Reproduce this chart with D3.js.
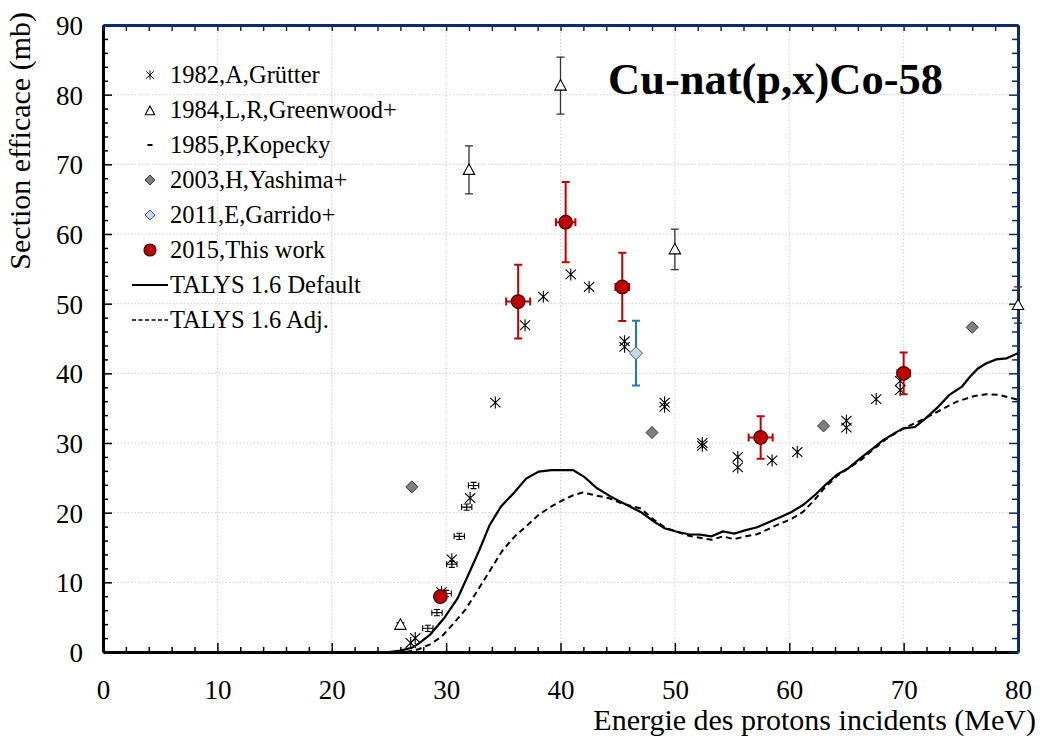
<!DOCTYPE html>
<html>
<head>
<meta charset="utf-8">
<script src="https://cdn.jsdelivr.net/npm/d3@7"></script>
<style>
  html, body { margin: 0; padding: 0; background: #fff; }
  svg { display: block; font-family: "Liberation Serif", "Times New Roman", serif; }
</style>
</head>
<body>
<svg id="chart" width="1040" height="738"></svg>
<script>
// ---- TALYS 1.6 calculations ----
const talysDefE = [25.0, 26.0, 27.0, 27.6, 28.6, 29.8, 31.0, 32.0, 32.9, 33.8, 34.8, 35.9, 37.0, 38.1, 39.2, 41.1, 42.1, 43.2, 44.4, 45.8, 47.0, 48.2, 49.1, 50.1, 51.2, 52.2, 53.2, 54.2, 55.2, 56.2, 57.2, 58.3, 59.3, 60.2, 61.2, 62.3, 63.1, 64.2, 65.1, 66.2, 67.3, 68.2, 69.4, 70.0, 71.0, 71.9, 72.9, 74.0, 75.1, 75.8, 76.5, 77.2, 78.1, 79.0, 80.0];
const talysDefS = [0.0, 0.2, 0.6, 1.2, 2.5, 4.8, 7.7, 11.3, 14.6, 18.2, 20.9, 22.8, 24.9, 25.9, 26.1, 26.1, 25.1, 23.5, 22.3, 21.1, 20.1, 18.7, 17.75, 17.3, 16.9, 16.85, 16.6, 17.3, 17.0, 17.5, 17.9, 18.7, 19.4, 20.1, 21.1, 22.6, 23.9, 25.5, 26.3, 27.8, 29.2, 30.4, 31.6, 32.1, 32.3, 33.5, 35.0, 36.9, 38.1, 39.5, 40.7, 41.4, 42.0, 42.15, 42.9];

const talysAdjE = [26.5, 27.6, 28.6, 29.6, 30.6, 31.7, 32.7, 33.8, 34.9, 36.0, 37.1, 38.1, 39.2, 40.2, 41.1, 41.95, 43.0, 44.2, 45.4, 47.0, 48.2, 49.1, 50.1, 51.2, 52.2, 53.2, 54.2, 55.15, 56.2, 57.2, 58.3, 59.3, 60.2, 61.2, 62.3, 63.1, 64.2, 65.2, 66.3, 67.3, 68.5, 70.0, 71.6, 73.2, 74.6, 76.1, 77.2, 78.4, 80.0];
const talysAdjS = [0.0, 0.4, 1.1, 2.2, 4.0, 6.1, 8.7, 11.6, 14.5, 16.6, 18.2, 19.7, 20.9, 21.8, 22.5, 22.9, 22.5, 22.1, 21.3, 20.6, 18.95, 17.9, 17.3, 16.7, 16.4, 16.1, 16.6, 16.2, 16.6, 16.9, 17.75, 18.5, 19.1, 20.1, 22.0, 23.6, 25.3, 26.4, 27.6, 29.0, 30.6, 32.1, 33.3, 34.7, 35.9, 36.7, 37.0, 36.9, 36.2];

// ---- Experimental data ----
// 1982, A, Grütter
const grutterE = [26.9, 27.3, 29.6, 30.5, 32.1, 34.3, 36.9, 38.5, 40.9, 42.5, 45.6, 45.6, 49.1, 49.1, 52.4, 52.4, 55.5, 55.5, 58.5, 60.7, 65.0, 65.0, 67.6, 69.7, 69.7];
const grutterS = [1.3, 2.0, 8.6, 13.3, 22.1, 35.8, 46.9, 51.0, 54.2, 52.4, 44.6, 43.8, 35.8, 35.2, 30.0, 29.6, 28.0, 26.5, 27.5, 28.7, 33.2, 32.2, 36.3, 38.9, 37.6];

// 1984, L.R. Greenwood+
const greenwoodE = [26.0, 32.0, 40.0, 50.0, 80.0];
const greenwoodS = [3.9, 69.2, 81.3, 57.8, 49.8];
const greenwoodErr = [0.3, 3.45, 4.1, 2.9, 2.6];

// 1985, P. Kopecky
const kopeckyE = [28.4, 29.2, 30.0, 30.5, 31.15, 31.8, 32.4];
const kopeckyS = [3.4, 5.65, 8.4, 12.6, 16.6, 20.8, 23.9];
const kopeckyErrE = [0.45, 0.45, 0.45, 0.45, 0.45, 0.45, 0.45];
const kopeckyErrS = [0.45, 0.45, 0.45, 0.45, 0.45, 0.45, 0.45];

// 2003, H. Yashima+
const yashimaE = [27.0, 48.0, 63.0, 76.0];
const yashimaS = [23.7, 31.5, 32.45, 46.6];

// 2011, E. Garrido+
const garridoE = [46.6];
const garridoS = [42.9];
const garridoErr = [4.65];

// 2015, this work
const thisWorkE = [29.5, 36.3, 40.45, 45.4, 57.5, 70.0];
const thisWorkS = [7.95, 50.3, 61.7, 52.4, 30.8, 40.0];
const thisWorkErrE = [0.45, 1.05, 0.85, 0.6, 1.05, 0.55];
const thisWorkErrS = [0.5, 5.3, 5.75, 4.9, 3.05, 3.0];

// ---- Axes ----
const xTicks = [0, 10, 20, 30, 40, 50, 60, 70, 80];
const yTicks = [0, 10, 20, 30, 40, 50, 60, 70, 80, 90];
const xLabel = "Energie des protons incidents (MeV)";
const yLabel = "Section efficace (mb)";
const title = "Cu-nat(p,x)Co-58";

const legendItems = [
  { key: "grutter",   label: "1982,A,Grütter" },
  { key: "greenwood", label: "1984,L,R,Greenwood+" },
  { key: "kopecky",   label: "1985,P,Kopecky" },
  { key: "yashima",   label: "2003,H,Yashima+" },
  { key: "garrido",   label: "2011,E,Garrido+" },
  { key: "thiswork",  label: "2015,This work" },
  { key: "talysDef",  label: "TALYS 1.6 Default" },
  { key: "talysAdj",  label: "TALYS 1.6 Adj." }
];

// ---- Layout ----
const L = 103, R = 1018, T = 25, B = 652;
const navy = "#0f2a6b";
const red = "#c00000";
const blue = "#1f78c1";

const svg = d3.select("#chart");
const x = d3.scaleLinear().domain([0, 80]).range([L, R]);
const y = d3.scaleLinear().domain([0, 90]).range([B, T]);

// grid
const grid = svg.append("g").attr("stroke", "#cfcfcf").attr("stroke-width", 1).attr("stroke-dasharray", "1.5,2");
grid.selectAll("line.v").data(xTicks.slice(1, -1)).join("line")
  .attr("x1", d => x(d)).attr("x2", d => x(d)).attr("y1", T).attr("y2", B);
grid.selectAll("line.h").data(yTicks.slice(1, -1)).join("line")
  .attr("x1", L).attr("x2", R).attr("y1", d => y(d)).attr("y2", d => y(d));

// axes with inward ticks; majors every 10, minors every 2
function styleTicks(g, isMajor, majorLen, minorLen, sign, horizontal) {
  g.selectAll(".tick line").each(function(d) {
    const len = (isMajor(d) ? majorLen : minorLen) * sign;
    if (horizontal) d3.select(this).attr("x2", len).attr("y2", 0);
    else d3.select(this).attr("y2", len).attr("x2", 0);
  });
}
const isMajor = d => Math.abs(d % 10) < 1e-9;
const fmt = d => isMajor(d) ? d3.format("d")(d) : "";

const gx = svg.append("g").attr("transform", `translate(0,${B})`)
  .call(d3.axisBottom(x).tickValues(d3.range(0, 81, 2)).tickFormat(fmt).tickSizeOuter(0).tickPadding(22));
styleTicks(gx, isMajor, 9, 5, -1, false);

const gy = svg.append("g").attr("transform", `translate(${L},0)`)
  .call(d3.axisLeft(y).tickValues(d3.range(0, 91, 2)).tickFormat(fmt).tickSizeOuter(0).tickPadding(14));
styleTicks(gy, isMajor, 9, 5, 1, true);

const gTop = svg.append("g").attr("transform", `translate(0,${T})`)
  .call(d3.axisTop(x).tickValues(d3.range(0, 81, 2)).tickFormat("").tickSizeOuter(0));
styleTicks(gTop, isMajor, 6, 6, 1, false);

const gRight = svg.append("g").attr("transform", `translate(${R},0)`)
  .call(d3.axisRight(y).tickValues(d3.range(0, 91, 2)).tickFormat("").tickSizeOuter(0));
styleTicks(gRight, isMajor, 9, 6, -1, true);

[gx, gy].forEach(g => {
  g.select(".domain").attr("stroke", "#000").attr("stroke-width", 3);
  g.selectAll(".tick line").attr("stroke", "#000").attr("stroke-width", 1.5);
  g.selectAll(".tick text").attr("font-family", "Liberation Serif").attr("font-size", 27).attr("fill", "#000");
});
[gTop, gRight].forEach(g => {
  g.select(".domain").attr("stroke", navy).attr("stroke-width", 3);
  g.selectAll(".tick line").attr("stroke", navy).attr("stroke-width", 1.5);
});
gy.selectAll(".tick text").attr("dy", "0.35em");

// axis titles
svg.append("text").attr("x", 1036).attr("y", 730).attr("text-anchor", "end")
  .attr("font-size", 30).text(xLabel);
svg.append("text").attr("transform", "translate(30,12) rotate(-90)").attr("text-anchor", "end")
  .attr("font-size", 30).text(yLabel);

// chart title
svg.append("text").attr("x", 943).attr("y", 94).attr("text-anchor", "end")
  .attr("font-size", 44.5).attr("font-weight", "bold").text(title);

// ---- TALYS curves ----
const line = d3.line().x(d => x(d[0])).y(d => y(d[1]));
svg.append("path").datum(d3.zip(talysAdjE, talysAdjS)).attr("d", line)
  .attr("fill", "none").attr("stroke", "#000").attr("stroke-width", 2).attr("stroke-dasharray", "6,4");
svg.append("path").datum(d3.zip(talysDefE, talysDefS)).attr("d", line)
  .attr("fill", "none").attr("stroke", "#000").attr("stroke-width", 2.2);

// ---- marker drawers ----
function asterisk(g, cx, cy, s, w) {
  g.append("path").attr("d",
    `M${cx},${cy - s}L${cx},${cy + s}` +
    `M${cx - s * 0.85},${cy - s * 0.8}L${cx + s * 0.85},${cy + s * 0.8}` +
    `M${cx - s * 0.85},${cy + s * 0.8}L${cx + s * 0.85},${cy - s * 0.8}`)
    .attr("stroke", "#000").attr("stroke-width", w).attr("fill", "none");
}
function triangle(g, cx, cy, s) {
  g.append("path").attr("d", `M${cx},${cy - s}L${cx + s * 0.95},${cy + s * 0.75}L${cx - s * 0.95},${cy + s * 0.75}Z`)
    .attr("fill", "#fff").attr("stroke", "#000").attr("stroke-width", 1.1);
}
function diamond(g, cx, cy, s, fill, stroke) {
  g.append("path").attr("d", `M${cx},${cy - s}L${cx + s},${cy}L${cx},${cy + s}L${cx - s},${cy}Z`)
    .attr("fill", fill).attr("stroke", stroke).attr("stroke-width", 1);
}
function vErr(g, cx, y1, y2, cap, color, w) {
  g.append("path").attr("d", `M${cx},${y1}L${cx},${y2}M${cx - cap},${y1}L${cx + cap},${y1}M${cx - cap},${y2}L${cx + cap},${y2}`)
    .attr("stroke", color).attr("stroke-width", w).attr("fill", "none");
}
function hErr(g, x1, x2, cy, cap, color, w) {
  g.append("path").attr("d", `M${x1},${cy}L${x2},${cy}M${x1},${cy - cap}L${x1},${cy + cap}M${x2},${cy - cap}L${x2},${cy + cap}`)
    .attr("stroke", color).attr("stroke-width", w).attr("fill", "none");
}

const pts = svg.append("g");

// Kopecky: small cross-shaped error bars
kopeckyE.forEach((e, i) => {
  hErr(pts, x(e - kopeckyErrE[i]), x(e + kopeckyErrE[i]), y(kopeckyS[i]), 3, "#000", 1.1);
  vErr(pts, x(e), y(kopeckyS[i] + kopeckyErrS[i]), y(kopeckyS[i] - kopeckyErrS[i]), 3, "#000", 1.1);
});

// Greenwood: open triangles with error bars
greenwoodE.forEach((e, i) => {
  vErr(pts, x(e), y(greenwoodS[i] + greenwoodErr[i]), y(greenwoodS[i] - greenwoodErr[i]), 4, "#333", 1.3);
  triangle(pts, x(e), y(greenwoodS[i]), 6);
});

// Grütter: asterisks
grutterE.forEach((e, i) => asterisk(pts, x(e), y(grutterS[i]), 6, 1.1));

// Yashima: grey diamonds
yashimaE.forEach((e, i) => diamond(pts, x(e), y(yashimaS[i]), 6, "#7f7f7f", "#333"));

// Garrido: light-blue diamond with blue error bar
garridoE.forEach((e, i) => {
  vErr(pts, x(e), y(garridoS[i] + garridoErr[i]), y(garridoS[i] - garridoErr[i]), 4, blue, 2);
  diamond(pts, x(e), y(garridoS[i]), 6.5, "#c5d9f1", "#555");
});

// This work: red circles with two-way error bars
thisWorkE.forEach((e, i) => {
  vErr(pts, x(e), y(thisWorkS[i] + thisWorkErrS[i]), y(thisWorkS[i] - thisWorkErrS[i]), 4, red, 2);
  hErr(pts, x(e - thisWorkErrE[i]), x(e + thisWorkErrE[i]), y(thisWorkS[i]), 4, red, 2);
  pts.append("circle").attr("cx", x(e)).attr("cy", y(thisWorkS[i])).attr("r", 6.8)
    .attr("fill", red).attr("stroke", "#400").attr("stroke-width", 1.2);
});

// ---- legend ----
const lg = svg.append("g");
const lx = 150, ly0 = 75, dy = 35;
legendItems.forEach((it, i) => {
  const cy = ly0 + i * dy;
  switch (it.key) {
    case "grutter": asterisk(lg, lx, cy, 4.5, 1); break;
    case "greenwood": triangle(lg, lx, cy + 1, 5); break;
    case "kopecky": lg.append("line").attr("x1", lx - 2.5).attr("x2", lx + 2.5).attr("y1", cy).attr("y2", cy)
      .attr("stroke", "#000").attr("stroke-width", 2); break;
    case "yashima": diamond(lg, lx, cy, 5, "#7f7f7f", "#333"); break;
    case "garrido": diamond(lg, lx, cy, 5, "#c5d9f1", "#555"); break;
    case "thiswork": lg.append("circle").attr("cx", lx).attr("cy", cy).attr("r", 6)
      .attr("fill", red).attr("stroke", "#400").attr("stroke-width", 1.2); break;
    case "talysDef": lg.append("line").attr("x1", 132).attr("x2", 168).attr("y1", cy).attr("y2", cy)
      .attr("stroke", "#000").attr("stroke-width", 2); break;
    case "talysAdj": lg.append("line").attr("x1", 132).attr("x2", 168).attr("y1", cy).attr("y2", cy)
      .attr("stroke", "#000").attr("stroke-width", 1.6).attr("stroke-dasharray", "4,2.5"); break;
  }
  lg.append("text").attr("x", 170).attr("y", cy).attr("dy", "0.33em")
    .attr("font-size", 24.5).text(it.label);
});
</script>
</body>
</html>
